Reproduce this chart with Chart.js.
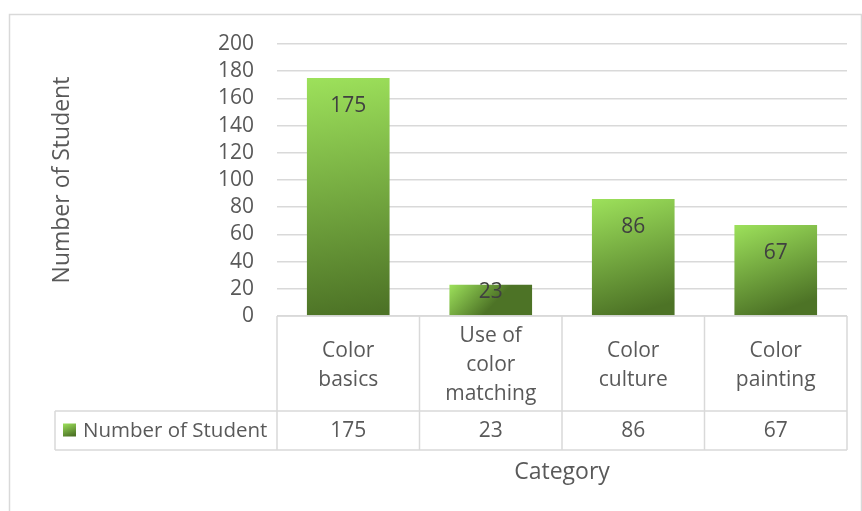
<!DOCTYPE html>
<html>
<head>
<meta charset="utf-8">
<script src="https://cdn.jsdelivr.net/npm/chart.js@4.4.1/dist/chart.umd.min.js"></script>
<style>
  html, body { margin: 0; padding: 0; background: #fff; }
  #wrap { width: 862px; height: 511px; position: relative; }
</style>
</head>
<body>
<div id="wrap"><canvas id="chart" width="862" height="511"></canvas></div>
<script>
'use strict';

// ── Data ─────────────────────────────────────────────────────────────────────
const categories    = [['Color', 'basics'], ['Use of', 'color', 'matching'], ['Color', 'culture'], ['Color', 'painting']];
const studentCounts = [175, 23, 86, 67];
const seriesName    = 'Number of Student';
const xTitle        = 'Category';
const yTitle        = 'Number of Student';
const yMin = 0, yMax = 200, yStep = 20;

// ── Look ─────────────────────────────────────────────────────────────────────
const FONT      = '"Open Sans", sans-serif';
const TEXT      = '#595959';
const LINE      = '#d9d9d9';
const GREEN_TOP = '#9de15b';
const GREEN_BOT = '#4d7326';
const BAR_FRAC  = 0.58;
const HEADER_H  = 95;   // category row height under the plot
const VALUE_H   = 39;   // value row height
const LEGEND_X  = 55;   // left edge of the legend cell

function barGradient(ctx, left, top, right, bottom) {
  const g = ctx.createLinearGradient(left, top, left + (right - left) * 0.4, bottom);
  g.addColorStop(0, GREEN_TOP);
  g.addColorStop(1, GREEN_BOT);
  return g;
}

// ── Table, labels, titles ────────────────────────────────────────────────────
const excelBits = {
  id: 'excelBits',
  beforeDraw(chart) {
    const c = chart.ctx;
    c.save();
    c.strokeStyle = LINE;
    c.lineWidth = 1.5;
    c.strokeRect(9.5, 14.5, 852, 600);
    c.restore();
  },
  afterDraw(chart) {
    const c = chart.ctx;
    const area = chart.chartArea;
    const xs = chart.scales.x, ys = chart.scales.y;
    const colW = (area.right - area.left) / categories.length;
    const row1 = area.bottom + HEADER_H;
    const row2 = row1 + VALUE_H;

    c.save();
    // grid of the data table
    c.strokeStyle = LINE;
    c.lineWidth = 1.5;
    c.beginPath();
    c.moveTo(area.left, area.bottom); c.lineTo(area.right, area.bottom);
    c.moveTo(LEGEND_X, row1); c.lineTo(area.right, row1);
    c.moveTo(LEGEND_X, row2); c.lineTo(area.right, row2);
    c.moveTo(LEGEND_X, row1); c.lineTo(LEGEND_X, row2);
    for (let i = 0; i <= categories.length; i++) {
      const x = area.left + i * colW;
      c.moveTo(x, area.bottom); c.lineTo(x, row2);
    }
    c.stroke();

    // category names and values
    c.fillStyle = TEXT;
    c.textAlign = 'center';
    c.textBaseline = 'middle';
    c.font = '21px ' + FONT;
    const lh = 29;
    categories.forEach((lines, i) => {
      const cx = xs.getPixelForValue(i);
      const mid = area.bottom + HEADER_H / 2 + 2;
      lines.forEach((t, k) => {
        c.fillText(t, cx, mid + (k - (lines.length - 1) / 2) * lh);
      });
      c.fillText(String(studentCounts[i]), cx, row1 + VALUE_H / 2 + 1);
    });

    // legend key + series name
    const ky = row1 + VALUE_H / 2;
    c.fillStyle = barGradient(c, 63, ky - 7, 76, ky + 7);
    c.fillRect(63, ky - 7, 13, 13);
    c.fillStyle = TEXT;
    c.textAlign = 'left';
    c.font = '20.5px ' + FONT;
    c.fillText(seriesName, 83, ky + 1);

    // data labels inside the bars
    c.fillStyle = '#404040';
    c.textAlign = 'center';
    c.font = '21px ' + FONT;
    const base = ys.getPixelForValue(0);
    studentCounts.forEach((v, i) => {
      const top = ys.getPixelForValue(v);
      const y = Math.min(top + 28, base - 24);
      c.fillText(String(v), xs.getPixelForValue(i), y);
    });

    // axis titles
    c.fillStyle = TEXT;
    c.font = '23px ' + FONT;
    c.fillText(xTitle, (area.left + area.right) / 2, row2 + 22);
    c.translate(62, 180);
    c.rotate(-Math.PI / 2);
    c.fillText(yTitle, 0, 0);
    c.restore();
  }
};

// ── Chart ────────────────────────────────────────────────────────────────────
new Chart(document.getElementById('chart'), {
  type: 'bar',
  data: {
    labels: categories.map(l => l.join(' ')),
    datasets: [{
      label: seriesName,
      data: studentCounts,
      categoryPercentage: 1,
      barPercentage: BAR_FRAC,
      borderWidth: 0,
      backgroundColor: ctx => {
        const chart = ctx.chart;
        if (!chart.chartArea || ctx.type !== 'data') return '#76ad3f';
        const xs = chart.scales.x, ys = chart.scales.y;
        const half = (chart.chartArea.right - chart.chartArea.left) / categories.length * BAR_FRAC / 2;
        const cx = xs.getPixelForValue(ctx.dataIndex);
        return barGradient(chart.ctx, cx - half, ys.getPixelForValue(ctx.raw), cx + half, ys.getPixelForValue(0));
      }
    }]
  },
  options: {
    responsive: false,
    animation: false,
    layout: { padding: { top: 44, right: 15, bottom: 195, left: 0 } },
    plugins: { legend: { display: false }, tooltip: { enabled: false } },
    scales: {
      x: { display: false },
      y: {
        min: yMin,
        max: yMax,
        afterFit: s => { s.width = 277; },
        border: { display: false },
        grid: { color: LINE, lineWidth: 1.5, drawTicks: false },
        ticks: { stepSize: yStep, autoSkip: false, padding: 23, color: TEXT, font: { family: FONT, size: 21 } }
      }
    }
  },
  plugins: [excelBits]
});
</script>
</body>
</html>
